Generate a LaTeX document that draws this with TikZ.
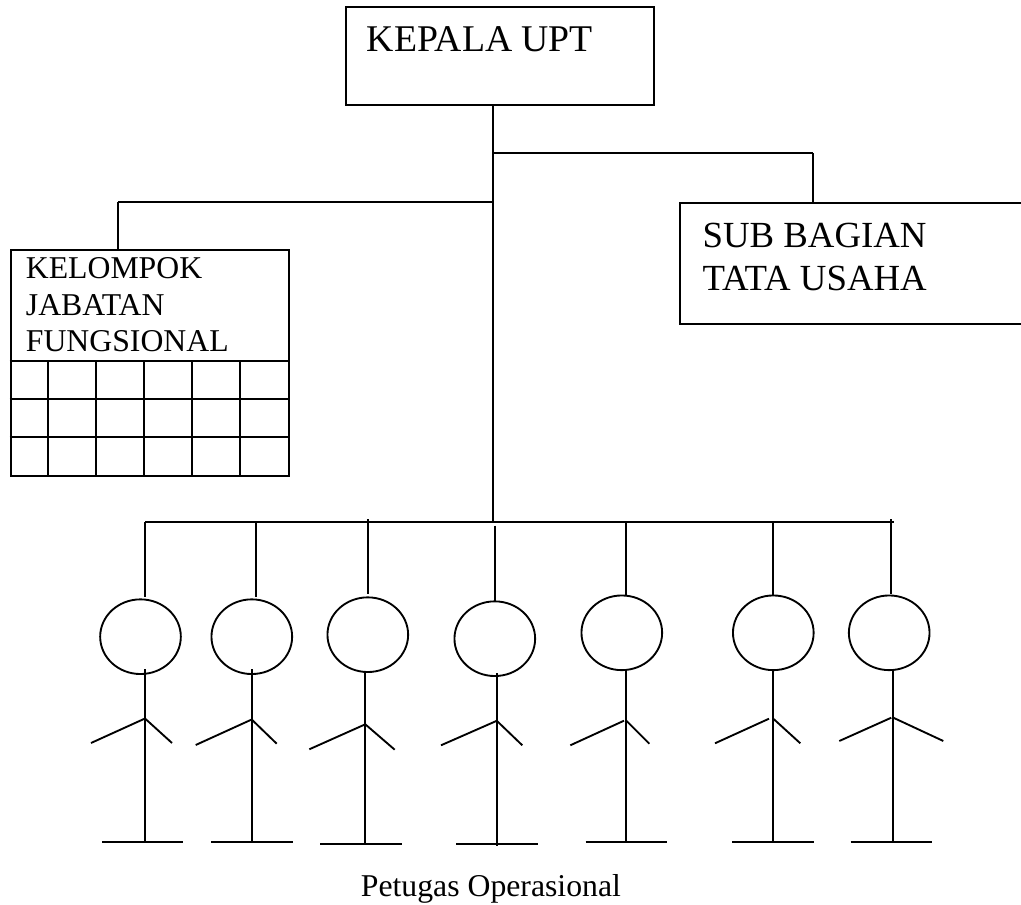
\documentclass[tikz,border=0pt]{standalone}
\usepackage{fontspec}
\setmainfont{Liberation Serif}
\usetikzlibrary{shapes.geometric}

\begin{document}
\begin{tikzpicture}[x=0.75pt,y=-0.75pt,line width=1.4pt,
  box node/.style={rectangle,draw,anchor=north west,inner sep=0pt},
  text node/.style={anchor=base west,inner sep=0pt,align=left},
  head node/.style={ellipse,draw,inner sep=0pt,minimum width=60.5pt,minimum height=56pt}]

  \useasboundingbox (0,0) rectangle (1021,905);

  \node[box node,minimum width=231pt,minimum height=73.5pt] (kepala) at (345.3,6) {};
  \node[box node,minimum width=263pt,minimum height=91pt] (sub) at (679.3,202) {};
  \node[box node,minimum width=208.7pt,minimum height=169pt] (kelompok) at (9.7,249.3) {};

  \node[text node,font=\fontsize{28.3}{34}\selectfont] (kepalatext) at (366,51.7) {KEPALA UPT};
  \node[text node,font=\fontsize{27.6}{32.5}\selectfont] (subtext) at (701.7,290.7) {SUB BAGIAN\\TATA USAHA};
  \node[text node,font=\fontsize{23.8}{27.5}\selectfont] (kelompoktext) at (25,351.7) {KELOMPOK\\JABATAN\\FUNGSIONAL};
  \node[text node,font=\fontsize{23.8}{28}\selectfont] (petugas) at (360,896) {Petugas Operasional};

  \draw (9.7,361) -- (288,361);
  \foreach \y in {399,437}
    \draw (9.7,\y) -- (288,\y);
  \foreach \x in {48,96,144,192,240}
    \draw (\x,361) -- (\x,474.7);

  \coordinate (top) at (kepala.south -| 492.7,0);
  \coordinate (bus) at (492.7,522);
  \coordinate (subturn) at (813,153.3);
  \coordinate (subjoin) at (492.7,153.3);
  \coordinate (kelturn) at (118.3,202);
  \coordinate (keljoin) at (492.7,202);
  \coordinate (busleft) at (145,522);
  \coordinate (busright) at (893.5,522);

  \path[draw]
   (top) edge (bus)
   (subjoin) -- (subturn) edge (subturn |- sub.north)
   (keljoin) -- (kelturn) edge (kelturn |- kelompok.north)
   (busleft) edge (busright);

  \foreach \i/\hx/\hy/\tx/\ta/\tb/\bx/\ba/\bb/\sx/\sy/\lx/\ly/\rx/\ry/\fl/\fr/\fy in {
    1/140.5/636.7/145/522/596.7/145/669/841.7/145/718.5/91/743/172/743/102/183/841.7,
    2/251.8/636.7/256.3/522/596.7/251.7/669/841.7/251.7/719.5/195.7/745/276.7/743.7/211/292.7/841.7,
    3/367.8/634.7/367.7/519/594/365.3/672/843.7/365.3/724.3/309.3/749.3/394.7/749.7/320/401.7/843.7,
    4/494.8/638.7/494.7/525.7/601.7/497/673.3/846/496.3/721/441/745.3/522.3/745.3/456/537.7/843.7,
    5/621.8/632.8/626.3/522/595.7/626.3/670/841.7/624/720.7/570.3/745.3/649.3/743.7/585.7/667/841.7,
    6/773.3/632.8/773.3/522/595.7/773.3/670/841.7/769/718.7/715/743.3/800.3/743.3/732.3/814.3/841.7,
    7/889.2/632.8/891.3/519/594.3/893.3/670/841.7/891.3/717.7/839.3/741/943.3/741/850.7/932.3/841.7}
  {
    \node[head node] (head\i) at (\hx,\hy) {};
    \coordinate (hangtop\i) at (\tx,\ta);
    \coordinate (hangend\i) at (\tx,\tb);
    \coordinate (neck\i) at (\bx,\ba);
    \coordinate (base\i) at (\bx,\bb);
    \coordinate (arm\i) at (\sx,\sy);
    \coordinate (hip\i) at (\bx,\sy);
    \coordinate (handl\i) at (\lx,\ly);
    \coordinate (handr\i) at (\rx,\ry);
    \coordinate (footl\i) at (\fl,\fy);
    \coordinate (footr\i) at (\fr,\fy);
    \draw (hangtop\i) -- (hangend\i);
    \draw (neck\i) -- (base\i);
    \draw (arm\i) -- (handl\i);
    \draw (hip\i) -- (handr\i);
    \draw (footl\i) -- (footr\i);
  }

\end{tikzpicture}
\end{document}
